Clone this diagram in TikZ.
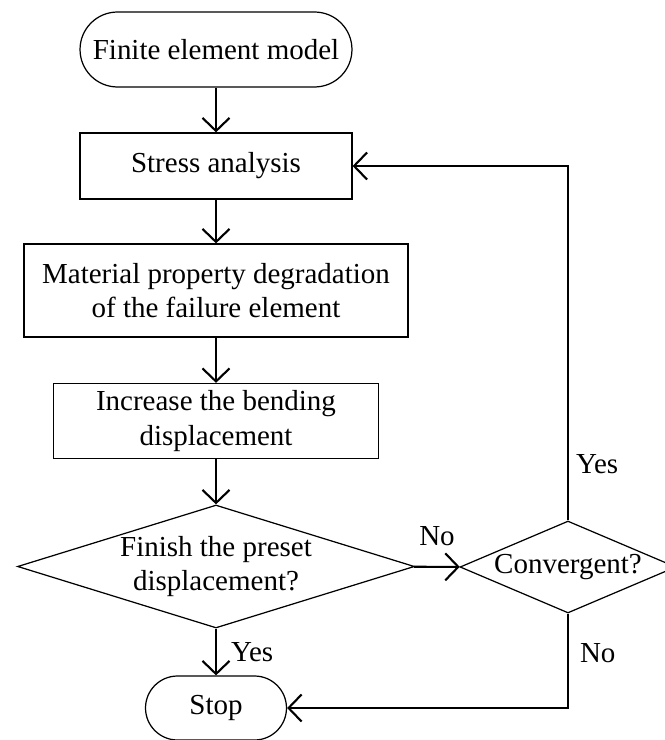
\documentclass[tikz,border=0pt]{standalone}
\usepackage{fontspec}
\setmainfont{Liberation Serif}
\usetikzlibrary{shapes.geometric,arrows.meta}
\begin{document}
\begin{tikzpicture}
        [x=0.02cm,y=-0.02cm,every node/.style={font=\fontsize{16.5}{19.5}\selectfont, align=center, inner sep=0pt},
         term/.style={draw, line width=0.7pt, rectangle},
         proc/.style={draw, line width=0.7pt, rectangle},
         dec/.style={draw, line width=0.7pt, diamond},
         flow/.style={line width=1.2pt, -{Straight Barb[length=0.26cm,width=0.54cm]}}]
      \useasboundingbox (0,0) rectangle (665,740);
      \node[term, minimum width=5.44cm, minimum height=1.5cm, rounded corners=0.75cm] (fem) at (216,49.5) {Finite element model};
      \node[proc, minimum width=5.44cm, minimum height=1.32cm] (stress) at (216,166) {Stress analysis};
      \node[proc, minimum width=7.68cm, minimum height=1.86cm] (mat) at (216,290.5) {Material property degradation\\of the failure element};
      \node[proc, minimum width=6.5cm, minimum height=1.5cm] (inc) at (216,421) {Increase the bending\\displacement};
      \node[dec, aspect=3.23, minimum width=7.94cm, minimum height=2.46cm] (fin) at (216,566.5) {Finish the preset\\displacement?};
      \node[dec, aspect=2.35, minimum width=4.32cm, minimum height=1.84cm] (conv) at (568,567) {Convergent?};
      \node[term, minimum width=2.82cm, minimum height=1.28cm, rounded corners=0.64cm] (stop) at (216,708) {Stop};

      \foreach \from/\to in {fem/stress, stress/mat, mat/inc, inc/fin}
        \draw[flow] (\from) -- (\to);
      \draw[flow] (fin) -- node[midway, anchor=west, xshift=0.28cm] {Yes} (stop);
      \draw[flow] (fin) -- node[midway, above=0.4cm] {No} (conv);
      \draw[flow] (conv.north) |- node[pos=0.08, anchor=west, xshift=0.14cm] {Yes} (stress.east);
      \draw[flow] (conv.south) |- node[pos=0.21, anchor=west, xshift=0.22cm] {No} (stop.east);
    \end{tikzpicture}
\end{document}
